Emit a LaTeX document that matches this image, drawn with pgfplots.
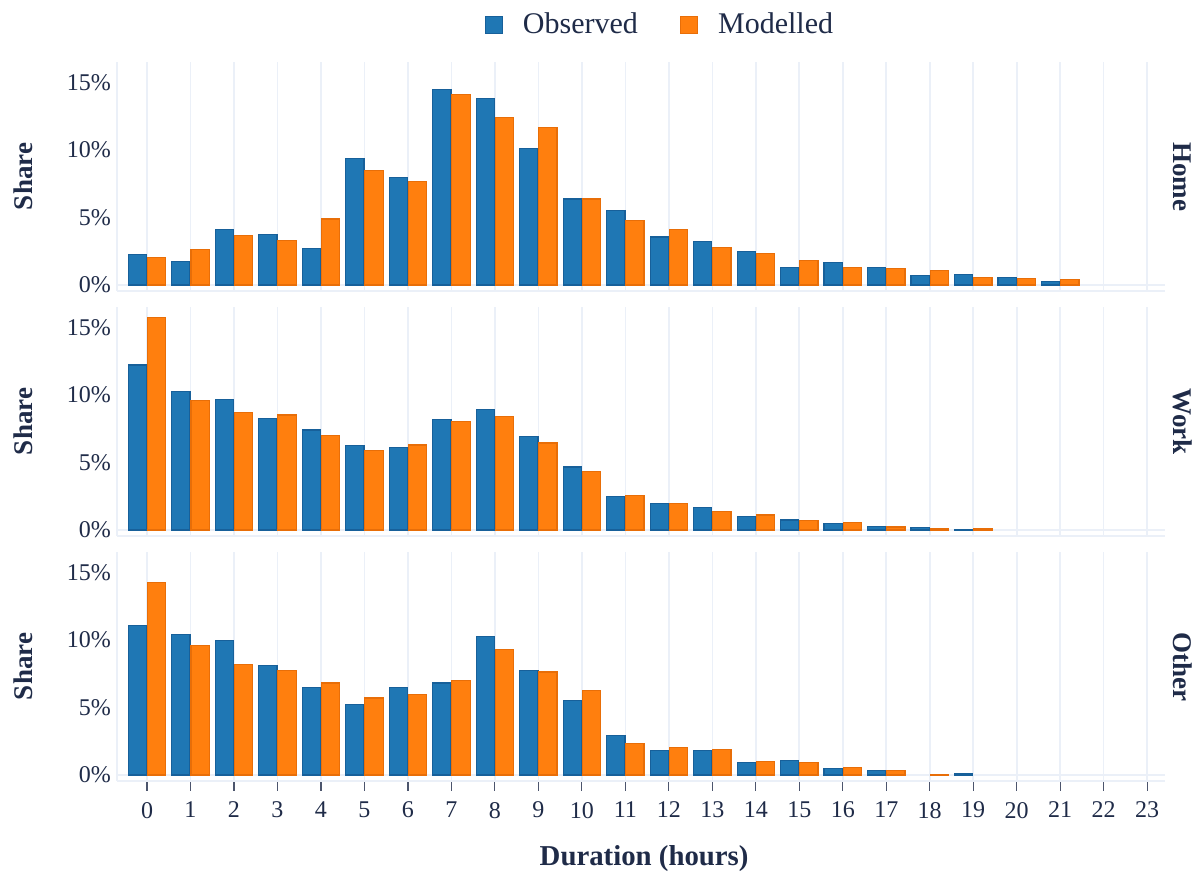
\documentclass[border=0pt]{standalone}
\usepackage{fontspec}
\setmainfont{Liberation Serif}
\usepackage{pgfplots}
\pgfplotsset{compat=1.18}
\usepackage{pgfplotstable}

\definecolor{obs}{HTML}{1F77B4}
\definecolor{obsd}{HTML}{17609A}
\definecolor{mod}{HTML}{FF7F0E}
\definecolor{modd}{HTML}{E86E08}
\definecolor{gridc}{HTML}{EBF0F8}
\definecolor{txt}{HTML}{1F2B48}

% Share of activities by duration (hours), observed vs modelled
\pgfplotstableread{
h obs mod
0 2.23 2.00
1 1.76 2.65
2 4.08 3.64
3 3.76 3.27
4 2.67 4.88
5 9.33 8.44
6 7.95 7.67
7 14.45 14.10
8 13.80 12.40
9 10.12 11.66
10 6.36 6.36
11 5.52 4.75
12 3.54 4.08
13 3.24 2.75
14 2.48 2.33
15 1.31 1.78
16 1.66 1.31
17 1.26 1.24
18 0.69 1.09
19 0.77 0.52
20 0.52 0.45
21 0.27 0.40
22 0 0
23 0 0
}\home

\pgfplotstableread{
h obs mod
0 12.20 15.75
1 10.27 9.55
2 9.65 8.69
3 8.22 8.51
4 7.40 6.98
5 6.26 5.89
6 6.09 6.29
7 8.17 8.04
8 8.89 8.42
9 6.91 6.44
10 4.65 4.33
11 2.48 2.52
12 1.93 1.96
13 1.63 1.36
14 1.01 1.11
15 0.74 0.69
16 0.45 0.54
17 0.27 0.22
18 0.15 0.12
19 0.05 0.12
20 0 0
21 0 0
22 0 0
23 0 0
}\work

\pgfplotstableread{
h obs mod
0 11.04 14.23
1 10.40 9.55
2 9.95 8.17
3 8.09 7.75
4 6.46 6.81
5 5.22 5.69
6 6.49 5.94
7 6.81 7.00
8 10.25 9.26
9 7.75 7.62
10 5.52 6.26
11 2.90 2.35
12 1.81 2.03
13 1.81 1.91
14 0.92 1.01
15 1.09 0.94
16 0.47 0.52
17 0.32 0.32
18 0 0.05
19 0.07 0
20 0 0
21 0 0
22 0 0
23 0 0
}\other

\pgfplotsset{
  sq legend/.style={legend image code/.code={%
      \draw[##1,line width=0.6pt] (0pt,-4.25pt) rectangle (8.5pt,4.25pt);}},
  obsbar/.style={ybar, bar width=0.42, bar shift=-0.22,
    fill=obs, draw=obsd, line width=0.6pt, sq legend,
    restrict y to domain=0.01:100},
  modbar/.style={ybar, bar width=0.42, bar shift=0.22,
    fill=mod, draw=modd, line width=0.6pt, sq legend,
    restrict y to domain=0.01:100},
  panel/.style={
    width=524pt, height=114.5pt, scale only axis,
    xmin=-0.69, xmax=23.41, ymin=-0.45, ymax=16.5,
    axis x line*=bottom, axis y line*=left,
    axis line style={gridc, line width=1pt},
    xtick={0,...,23}, ytick={0,5,10,15},
    xmajorgrids, major grid style={gridc, line width=0.8pt},
    extra y ticks={0}, extra y tick labels={},
    extra y tick style={grid=major, ytick style={draw=none}},
    ytick style={draw=none},
    /pgf/number format/assume math mode=true,
    yticklabel={\pgfmathprintnumber{\tick}\%},
    yticklabel style={font=\fontsize{12}{12}\selectfont, text=txt, xshift=0.5pt},
    ylabel={Share},
    ylabel style={at={(axis description cs:-0.0897,0.5)}, anchor=center,
      rotate=0, font=\bfseries\fontsize{13.5}{13.5}\selectfont, text=txt},
    clip=false,
  },
  facet/.style={extra description/.code={%
      \node[rotate=-90, font=\bfseries\fontsize{13.5}{13.5}\selectfont, text=txt]
        at (1.0165,0.5) {#1};}},
  notx/.style={xticklabels={}, xtick style={draw=none}},
}

\begin{document}
\begin{tikzpicture}
\path[use as bounding box] (-58.5pt,31pt) rectangle (539.5pt,-405pt);

\begin{axis}[panel, notx, facet=Home, at={(0pt,0pt)}, anchor=north west,
    legend style={at={(0.519,1.1616)}, anchor=center, draw=none, fill=none,
      legend columns=2, font=\fontsize{15}{15}\selectfont, text=txt,
      /tikz/every odd column/.append style={column sep=8pt},
      /tikz/every even column/.append style={column sep=19pt}},
    legend cell align=left]
  \addplot[obsbar] table[x=h, y=obs] {\home};
  \addlegendentry{Observed}
  \addplot[modbar] table[x=h, y=mod] {\home};
  \addlegendentry{Modelled}
\end{axis}

\begin{axis}[panel, notx, facet=Work, at={(0pt,-122.5pt)}, anchor=north west]
  \addplot[obsbar] table[x=h, y=obs] {\work};
  \addplot[modbar] table[x=h, y=mod] {\work};
\end{axis}

\begin{axis}[panel, facet=Other, at={(0pt,-245pt)}, anchor=north west,
    xtick style={draw=txt!80, line width=0.6pt},
    xtick align=outside, major tick length=5pt,
    xticklabel style={font=\fontsize{12}{12}\selectfont, text=txt, yshift=-2pt},
    xlabel={Duration (hours)},
    xlabel style={at={(axis description cs:0.503,0)}, anchor=center, yshift=-39pt,
      font=\bfseries\fontsize{14.4}{14.4}\selectfont, text=txt}]
  \addplot[obsbar] table[x=h, y=obs] {\other};
  \addplot[modbar] table[x=h, y=mod] {\other};
\end{axis}
\end{tikzpicture}
\end{document}
